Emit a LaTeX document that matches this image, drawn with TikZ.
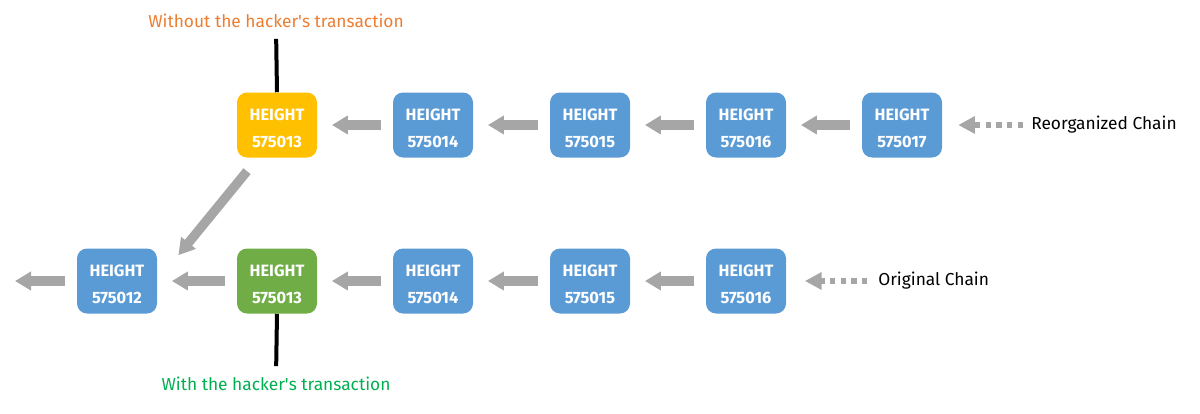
\documentclass[tikz,border=0pt]{standalone}
\usepackage{fontspec}
\setmainfont{Fira Sans}
\usetikzlibrary{arrows.meta, calc}

\definecolor{blockblue}{HTML}{5B9BD5}
\definecolor{blockyellow}{HTML}{FFC000}
\definecolor{blockgreen}{HTML}{70AD47}
\definecolor{arrowgray}{HTML}{A6A6A6}
\definecolor{noteorange}{HTML}{ED7D31}
\definecolor{notegreen}{HTML}{00B050}

\newcommand{\blocktext}[1]{\rule{0pt}{14pt}HEIGHT\\#1}

\tikzset{
  block/.style={rounded corners=7.5pt, minimum width=60pt, minimum height=48.75pt,
    text=white, align=center, font=\fontsize{12.3}{20}\selectfont\bfseries, inner sep=0pt},
  chainarrow/.style={draw=arrowgray, line width=7pt, -{Triangle[length=12pt, width=13.5pt]}},
  tiparrow/.style={draw=arrowgray, line width=4pt, dash pattern=on 4pt off 4pt,
    -{Triangle[length=12.5pt, width=12.5pt]}},
  marker/.style={line width=3pt},
  note/.style={font=\fontsize{13}{15}\selectfont, inner sep=0pt}
}

\begin{document}
\begin{tikzpicture}[x=0.75pt, y=-0.75pt]
\useasboundingbox (0,0) rectangle (1200,414);

% Reorganized chain (top row)
\node[block, fill=blockyellow] (top13) at (277,125) {\blocktext{575013}};
\node[block, fill=blockblue] (top14) at (433,125) {\blocktext{575014}};
\node[block, fill=blockblue] (top15) at (590,125) {\blocktext{575015}};
\node[block, fill=blockblue] (top16) at (746,125) {\blocktext{575016}};
\node[block, fill=blockblue] (top17) at (902,125) {\blocktext{575017}};

% Original chain (bottom row)
\node[block, fill=blockblue] (bot12) at (117,281) {\blocktext{575012}};
\node[block, fill=blockgreen] (bot13) at (277,281) {\blocktext{575013}};
\node[block, fill=blockblue] (bot14) at (433,281) {\blocktext{575014}};
\node[block, fill=blockblue] (bot15) at (590,281) {\blocktext{575015}};
\node[block, fill=blockblue] (bot16) at (746,281) {\blocktext{575016}};
\coordinate (tail) at (15,281);

% Labels
\node[note, text=noteorange] (without) at (276,21) {Without the hacker\textquotesingle s transaction};
\node[note, text=notegreen] (with) at (276,384) {With the hacker\textquotesingle s transaction};
\node[note, anchor=west] (reorg) at (1031,125) {Reorganized Chain};
\node[note, anchor=west] (orig) at (878,281) {Original Chain};

% Links between blocks
\foreach \a/\b in {top17/top16, top16/top15, top15/top14, top14/top13,
                   bot16/bot15, bot15/bot14, bot14/bot13, bot13/bot12}
  \draw[chainarrow, shorten <=9pt, shorten >=11pt] (\a.west) -- (\b.east);
\draw[chainarrow, shorten <=9pt] (bot12.west) -- (tail);
\draw[chainarrow, shorten <=13pt, shorten >=25pt] ($(top13.south)+(-19,0)$) -- (bot12.east);

% Chain tips
\draw[tiparrow, shorten <=6pt, shorten >=12pt] (reorg.west) -- (top17.east);
\draw[tiparrow, shorten <=8pt, shorten >=14pt] (orig.west) -- (bot16.east);

% Markers
\draw[marker, shorten <=8pt] (without.south) -- (top13.north);
\draw[marker, shorten <=8pt] (with.north) -- (bot13.south);
\end{tikzpicture}
\end{document}
